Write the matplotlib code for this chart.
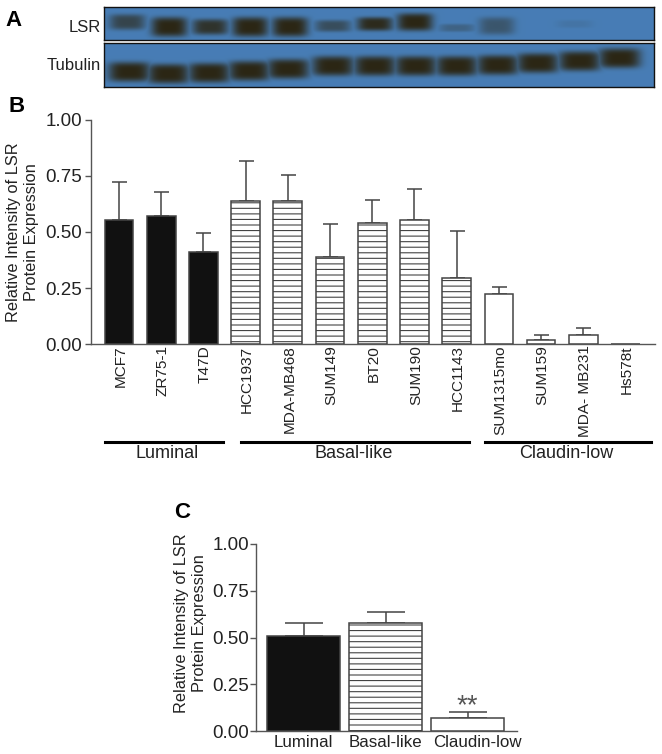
import numpy as np
import matplotlib
matplotlib.use('Agg')
import matplotlib.pyplot as plt
from matplotlib.lines import Line2D
from matplotlib.transforms import ScaledTranslation

plt.rcParams['font.family'] = ['Liberation Sans', 'DejaVu Sans']
plt.rcParams['hatch.linewidth'] = 0.8
plt.rcParams['hatch.color'] = '#666666'

W, H = 662, 754

# panel B
cell_lines = ['MCF7', 'ZR75-1', 'T47D', 'HCC1937', 'MDA-MB468', 'SUM149', 'BT20',
              'SUM190', 'HCC1143', 'SUM1315mo', 'SUM159', 'MDA- MB231', 'Hs578t']
cell_means = [0.555, 0.57, 0.41, 0.64, 0.64, 0.39, 0.54, 0.555, 0.295, 0.225, 0.02, 0.04, 0.0]
cell_tops = [0.725, 0.68, 0.495, 0.815, 0.755, 0.535, 0.645, 0.69, 0.505, 0.255, 0.04, 0.07, 0.0]
cell_groups = [0, 0, 0, 1, 1, 1, 1, 1, 1, 2, 2, 2, 2]

# panel C
groups = ['Luminal', 'Basal-like', 'Claudin-low']
group_means = [0.51, 0.58, 0.07]
group_tops = [0.58, 0.635, 0.10]

yticks = [0.0, 0.25, 0.5, 0.75, 1.0]

# panel A, band strength and position for each lane (pixels of the figure)
lsr_x = [127, 169, 210, 250, 290, 333, 375, 415, 457, 497, 537, 575, 616]
lsr_y = [22, 27, 27, 27, 27, 26, 24, 22, 28, 26, 25, 24, 25]
lsr_strength = [0.65, 1.0, 0.85, 1.0, 1.0, 0.55, 0.95, 1.0, 0.3, 0.45, 0.0, 0.1, 0.0]
lsr_height = [8, 10, 8, 10, 10, 6, 7, 9, 4, 9, 1, 4, 1]
tub_x = [129, 168, 209, 249, 288, 333, 375, 416, 457, 498, 538, 580, 620]
tub_y = [72, 74, 73, 71, 69, 66, 66, 66, 66, 65, 63, 61, 58]
tub_strength = [1.0] * 13
tub_height = [10] * 13


def px_axes(left, top, right, bottom):
    return fig.add_axes([left / W, 1 - bottom / H, (right - left) / W, (bottom - top) / H])


def px_text(x, y, s, **kw):
    fig.text(x / W, 1 - y / H, s, color='#222222', **kw)


def px_line(x0, x1, y):
    fig.add_artist(Line2D([x0 / W, x1 / W], [1 - y / H, 1 - y / H], color='black', lw=2.2,
                          transform=fig.transFigure))


def blot(left, top, right, bottom, xs, ys, strengths, heights, half_w):
    ax = px_axes(left, top, right, bottom)
    xx, yy = np.meshgrid(np.arange(left, right + 1), np.arange(top, bottom + 1))
    dark = np.zeros(xx.shape)
    for x, y, s, h in zip(xs, ys, strengths, heights):
        d = ((xx - x) / half_w) ** 4 + ((yy - y) / h) ** 4
        dark = np.maximum(dark, s * np.exp(-d))
    bg = np.array([0.28, 0.49, 0.71])
    fg = np.array([0.17, 0.15, 0.08])
    img = bg[None, None, :] * (1 - dark[..., None]) + fg[None, None, :] * dark[..., None]
    ax.imshow(img, extent=(left, right, bottom, top), aspect='auto', interpolation='bilinear')
    ax.set_xticks([])
    ax.set_yticks([])
    for s in ax.spines.values():
        s.set_linewidth(1.0)
        s.set_color('#111111')


def style_bar(bar, group):
    if group == 0:
        bar.set_facecolor('#111111')
    elif group == 1:
        bar.set_facecolor('white')
        bar.set_hatch('---')
    else:
        bar.set_facecolor('white')


def style_axis(ax, size, pad):
    ax.set_ylim(0, 1)
    ax.set_yticks(yticks)
    ax.set_yticklabels(['%.2f' % t for t in yticks], fontsize=size, color='#222222')
    ax.spines['top'].set_visible(False)
    ax.spines['right'].set_visible(False)
    ax.spines['left'].set_color('#555555')
    ax.spines['bottom'].set_color('#555555')
    ax.spines['left'].set_linewidth(1.0)
    ax.spines['bottom'].set_linewidth(1.0)
    ax.tick_params(axis='y', length=4.5, width=1.0, color='#555555', pad=pad)
    ax.patch.set_alpha(0)


def draw_bars(ax, means, tops, kinds, width, cap):
    x = np.arange(len(means))
    bars = ax.bar(x, means, width=width, edgecolor='#444444', linewidth=1.1, zorder=3)
    for b, k in zip(bars, kinds):
        style_bar(b, k)
    for i in x:
        if tops[i] > means[i]:
            ax.errorbar(i, means[i], yerr=[[0], [tops[i] - means[i]]], color='#444444',
                        elinewidth=1.1, capsize=cap, capthick=1.1, zorder=2)
    return x


fig = plt.figure(figsize=(W / 100, H / 100), dpi=100)

# A
blot(104, 7, 654, 40, lsr_x, lsr_y, lsr_strength, lsr_height, 18)
blot(104, 43, 654, 87, tub_x, tub_y, tub_strength, tub_height, 21)
fig.text(5 / W, 1 - 20 / H, 'A', fontsize=16, fontweight='bold', va='center', color='black')
px_text(101, 27, 'LSR', fontsize=12, va='center', ha='right')
px_text(101, 66, 'Tubulin', fontsize=12, va='center', ha='right')

# B
fig.text(9 / W, 1 - 107 / H, 'B', fontsize=16, fontweight='bold', va='center', color='black')
ax = px_axes(91, 120, 655, 344)
ax.set_xlim(-0.664, 12.70)
x = draw_bars(ax, cell_means, cell_tops, cell_groups, 0.68, 5.4)
style_axis(ax, 13.5, 2)
ax.set_xticks(x)
ax.set_xticklabels(cell_lines, rotation=90, fontsize=11.1, color='#222222')
ax.tick_params(axis='x', length=0, pad=1)
for lab in ax.get_xticklabels():
    lab.set_transform(lab.get_transform() + ScaledTranslation(1.5 / 100, 0, fig.dpi_scale_trans))
px_text(23, 232, 'Relative Intensity of LSR\nProtein Expression', fontsize=11.8, rotation=90,
        ha='center', va='center', linespacing=1.25)
px_line(105, 223, 442)
px_line(241, 469, 442)
px_line(485, 651, 442)
px_text(167, 454, groups[0], fontsize=13, ha='center', va='center')
px_text(354, 454, groups[1], fontsize=13, ha='center', va='center')
px_text(566, 454, groups[2], fontsize=13, ha='center', va='center')

# C
fig.text(174 / W, 1 - 512 / H, 'C', fontsize=16, fontweight='bold', va='center', color='black')
ax2 = px_axes(256, 544, 517, 731)
ax2.set_xlim(-0.58, 2.60)
x2 = draw_bars(ax2, group_means, group_tops, [0, 1, 2], 0.89, 14)
style_axis(ax2, 13.5, 0.5)
ax2.set_xticks(x2)
ax2.set_xticklabels(groups, fontsize=12.2, color='#222222')
ax2.tick_params(axis='x', length=0, pad=3)
# last label sits a little right of its bar
lab = ax2.get_xticklabels()[2]
lab.set_transform(lab.get_transform() + ScaledTranslation(10 / 100, 0, fig.dpi_scale_trans))
ax2.text(2, 0.13, '**', fontsize=20, color='#555555', ha='center', va='center')
px_text(190.5, 623, 'Relative Intensity of LSR\nProtein Expression', fontsize=11.8, rotation=90,
        ha='center', va='center', linespacing=1.25)

fig.savefig('out.png', dpi=100)
